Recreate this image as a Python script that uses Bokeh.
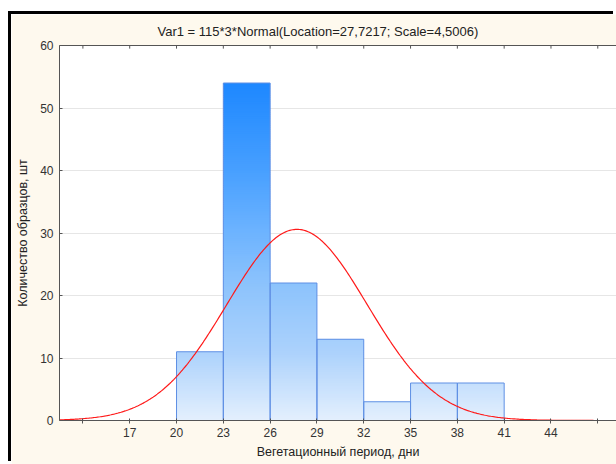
import numpy as np
from bokeh.plotting import figure
from bokeh.models import FixedTicker, LinearAxis, Range1d
from bokeh.embed import file_html
from bokeh.resources import INLINE

# ---- data ----
bin_left = [20, 23, 26, 29, 32, 35, 38]
bin_right = [23, 26, 29, 32, 35, 38, 41]
counts = [11, 54, 22, 13, 3, 6, 6]
x_ticks = [14, 17, 20, 23, 26, 29, 32, 35, 38, 41, 44, 47]
x_tick_labels = {14: "", 17: "17", 20: "20", 23: "23", 26: "26", 29: "29", 32: "32",
                 35: "35", 38: "38", 41: "41", 44: "44", 47: ""}
y_ticks = [0, 10, 20, 30, 40, 50, 60]
n_obs = 115
bin_width = 3
loc = 27.7217
scale = 4.5006
title_text = "Var1 = 115*3*Normal(Location=27,7217; Scale=4,5006)"
x_label = "Вегетационный период, дни"
y_label = "Количество образцов, шт"

FONT = "Liberation Sans"
CREAM = "#FEF9EE"
Y_END = 60

p = figure(width=605, height=450, output_backend="svg", toolbar_location=None,
           x_range=Range1d(12.5, 48.2), y_range=Range1d(0, Y_END),
           min_border_left=48, min_border_right=0, min_border_top=31, min_border_bottom=44)
p.margin = (14, 0, 0, 11)
p.styles = {"box-shadow": "-3px -3px 0px 0px #000000"}
p.background_fill_color = "white"
p.border_fill_color = CREAM
p.outline_line_color = None

p.title.text = title_text
p.title.text_font = FONT
p.title.text_font_size = "13px"
p.title.text_font_style = "normal"
p.title.text_color = "#222222"
p.title.align = "left"
p.title.offset = 98
p.title.standoff = 14

# gradient colour by height
anchors_y = [0, 11, 22, 30, 40, 54]
anchors_c = [(228, 240, 254), (172, 210, 252), (140, 195, 253), (110, 180, 255), (72, 160, 255), (30, 136, 255)]

def grad(y):
    r = np.interp(y, anchors_y, [c[0] for c in anchors_c])
    g = np.interp(y, anchors_y, [c[1] for c in anchors_c])
    b = np.interp(y, anchors_y, [c[2] for c in anchors_c])
    return "#%02x%02x%02x" % (int(r), int(g), int(b))

step = 0.3
L, R, B, T, C = [], [], [], [], []
for l, r, h in zip(bin_left, bin_right, counts):
    y0 = 0.0
    while y0 < h:
        top = min(y0 + step * 1.6, h)
        L.append(l); R.append(r); B.append(y0); T.append(top)
        C.append(grad(y0 + step / 2))
        y0 += step
p.quad(left=L, right=R, bottom=B, top=T, fill_color=C, line_color=None)
p.quad(left=bin_left, right=bin_right, bottom=0, top=counts, fill_color=None,
       line_color="#5E8FE4", line_width=1)

xs = np.linspace(12.5, 48.2, 400)
ys = n_obs * bin_width * np.exp(-0.5 * ((xs - loc) / scale) ** 2) / (scale * np.sqrt(2 * np.pi))
p.line(xs, ys, line_color="#FF1A1A", line_width=1.2)

# top frame ticks (inward)
p.segment(x0=x_ticks, y0=[Y_END] * len(x_ticks), x1=x_ticks, y1=[Y_END - 0.5] * len(x_ticks),
          line_color="#555555", line_width=1)

# axes styling
p.xgrid.visible = False
p.ygrid.grid_line_color = "#E6E6E6"
p.ygrid.ticker = FixedTicker(ticks=y_ticks)

xa = p.xaxis[0]
xa.ticker = FixedTicker(ticks=x_ticks)
xa.major_label_overrides = x_tick_labels
xa.axis_label = x_label
ya = p.yaxis[0]
ya.ticker = FixedTicker(ticks=y_ticks)
ya.axis_label = y_label
for ax in (xa, ya):
    ax.axis_line_color = "#555555"
    ax.major_tick_line_color = "#555555"
    ax.minor_tick_line_color = None
    ax.major_label_text_font = FONT
    ax.major_label_text_font_size = "12px"
    ax.major_label_text_color = "#333333"
    ax.axis_label_text_font = FONT
    ax.axis_label_text_font_size = "12.5px"
    ax.axis_label_text_font_style = "normal"
    ax.axis_label_text_color = "#222222"
xa.major_tick_in = 2
xa.major_tick_out = 3
xa.major_label_standoff = 4
xa.axis_label_standoff = 5
ya.major_tick_in = 3
ya.major_tick_out = 0
ya.major_label_standoff = 6
ya.axis_label_standoff = 7

# top frame line
top_ax = LinearAxis(ticker=FixedTicker(ticks=[]), major_label_text_font_size="0px",
                    major_tick_in=0, major_tick_out=0, major_label_standoff=0,
                    axis_line_color="#555555", minor_tick_line_color=None)
p.add_layout(top_ax, "above")

open("out.html", "w").write(file_html(p, INLINE))
